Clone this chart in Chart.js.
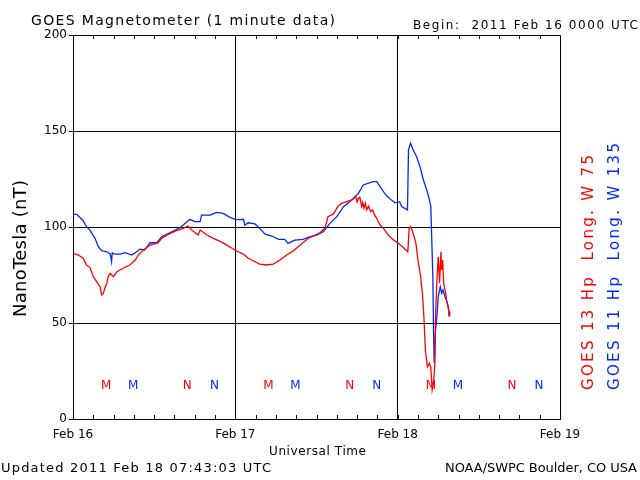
<!DOCTYPE html>
<html>
<head>
<meta charset="utf-8">
<script src="https://cdn.jsdelivr.net/npm/chart.js@4/dist/chart.umd.min.js"></script>
<style>
  html, body { margin: 0; padding: 0; background: #fff; }
  canvas { display: block; }
</style>
</head>
<body>
<canvas id="magChart" width="640" height="480"></canvas>
<script>
// hours since 2011 Feb 16 00:00 UTC
const goes13Hours = [0, 0.8, 1.5, 2.0, 2.5, 3.0, 3.5, 4.0, 4.24, 4.5, 4.7, 5.0, 5.2, 5.5, 6.0, 6.5, 7.4, 8.4, 9.2, 9.65,
  10.4, 11.4, 12.6, 13.1, 14.1, 15.3, 16.3, 17.0, 17.55, 18.5, 18.8, 19.8, 20.75, 21.5, 22.5, 23.5, 24.2, 25.2, 25.9, 26.4,
  27.6, 28.6, 29.6, 30.6, 31.6, 32.6, 33.6, 34.6, 35.5, 36.5, 37.25, 37.7, 38.5, 39.2, 39.7, 40.5, 41.4, 41.8, 42.0, 42.2,
  42.4, 42.68, 42.83, 43.02, 43.22, 43.42, 43.71, 44.0, 44.3, 44.6, 44.9, 45.0, 45.4, 45.9, 46.6, 47.4, 48.1, 48.8, 49.5, 49.7,
  49.9, 50.3, 50.7, 51.0, 51.4, 51.7, 51.9, 52.1, 52.4, 52.7, 52.9, 53.1, 53.3, 53.5, 53.6, 53.8, 54.0, 54.2, 54.4, 54.5,
  54.65, 54.8, 55.1, 55.3, 55.6, 55.7];
const goes13Values = [86.3, 85.4, 83.7, 80.2, 79, 74.1, 71.5, 68.9, 64.6, 65.5, 68.1, 70.7, 74.1, 75.9, 74.1, 76.7, 78.5, 80.2, 82.8, 85.4,
  88, 90.6, 91.8, 94.1, 96.2, 98.1, 99.3, 100.5, 98.4, 95.8, 98.4, 95.8, 94.1, 92.9, 91.1, 88.9, 87.5, 85.9, 83.7, 82.8,
  80.7, 80.2, 80.7, 82.8, 85.4, 87.6, 90.6, 93.6, 95.3, 97, 99.3, 105.4, 106.8, 110.9, 112.3, 113.2, 114.4, 116, 113, 114.9,
  115.5, 110.6, 112.7, 109.7, 112.3, 108.9, 110.9, 108, 108.9, 106.2, 104.5, 103.6, 101, 99.3, 95.8, 93.2, 91.5, 89.4, 87.1, 99.3,
  100.2, 96.7, 91.5, 82.8, 74.1, 63.7, 51.6, 35.9, 27.2, 29, 27.2, 15.1, 18.6, 29, 53.3, 72.4, 84.5, 70.7, 87.1, 77.6,
  82.8, 70.7, 65.5, 60.3, 55.9, 53.5];

const goes11Hours = [0, 0.55, 1.5, 2.0, 2.5, 3.25, 3.75, 4.24, 4.98, 5.5, 5.7, 5.8, 6.2, 6.95, 7.7, 8.7, 9.4, 9.9, 10.6, 11.4,
  12.4, 13.1, 14.3, 15.8, 16.6, 17.3, 18.0, 18.8, 19.0, 20.3, 21.2, 22.2, 23.2, 24.0, 24.7, 25.2, 25.4, 25.9, 26.9, 27.6,
  28.4, 29.4, 30.4, 31.3, 31.8, 32.8, 34.0, 35.0, 36.0, 37.0, 38.0, 39.0, 40.0, 41.2, 42.2, 42.9, 43.7, 44.4, 44.9, 45.4,
  45.9, 46.4, 47.1, 47.6, 48.3, 48.6, 49.3, 49.45, 49.6, 49.9, 50.3, 50.8, 51.3, 51.8, 52.3, 52.7, 52.9, 53.0, 53.2, 53.3,
  53.4, 53.6, 53.8, 54.0, 54.3, 54.5, 54.7, 55.0, 55.2, 55.5, 55.6];
const goes11Values = [106.6, 106.6, 103.3, 100.2, 98.4, 94.1, 89.7, 87.7, 87.1, 86, 82, 86.5, 85.9, 85.9, 86.6, 85.4, 87.1, 88.5, 88, 91.8,
  91.8, 94.9, 97, 99.6, 101.9, 104, 102.8, 102.8, 106.2, 106.2, 107.6, 107.1, 105, 104, 103.8, 104, 101, 102.2, 101.6, 99.3,
  96.3, 95.3, 93.6, 93.6, 91.5, 93.2, 93.6, 94.9, 95.8, 97.5, 101.9, 105.4, 110.6, 114, 117.5, 121.9, 122.8, 123.6, 123.6, 121,
  118.4, 116.1, 114, 112.6, 113.2, 110.6, 109.2, 108.9, 140.1, 143.6, 140.1, 136.6, 131.4, 124.5, 119.3, 114, 110.6, 98.4, 74.1, 46.4,
  29, 46.4, 53.3, 63.7, 68.9, 65.5, 67.2, 63.7, 62, 58.5, 53.3];

// local noon / midnight markers along the bottom
const markerLetters = ['M', 'M', 'N', 'N', 'M', 'M', 'N', 'N', 'M', 'M', 'N', 'N'];
const markerHours = [4.9, 8.9, 16.9, 20.9, 28.9, 32.9, 40.9, 44.9, 52.9, 56.9, 64.9, 68.9];
const markerSeries = [0, 1, 0, 1, 0, 1, 0, 1, 0, 1, 0, 1];
const markerLevel = 17;

const dayLabels = ['Feb 16', 'Feb 17', 'Feb 18', 'Feb 19'];

const RED = '#ff0000';
const BLUE = 'rgb(0,40,255)';
const FONT = 'DejaVu Sans';

function toPoints(hours, vals) {
  return hours.map((h, i) => ({ x: h, y: vals[i] }));
}

// draw text stretched with letter spacing to a given width, left edge at x
function spacedText(ctx, str, x, y, size, width) {
  ctx.font = size + 'px "' + FONT + '"';
  ctx.letterSpacing = '0px';
  const base = ctx.measureText(str).width;
  const extra = str.length > 1 ? (width - base) / (str.length - 1) : 0;
  ctx.letterSpacing = extra + 'px';
  ctx.textAlign = 'left';
  ctx.fillText(str, x, y);
  ctx.letterSpacing = '0px';
}

const overlay = {
  id: 'overlay',
  afterDraw(chart) {
    const { ctx, chartArea: a, scales: { x, y } } = chart;
    ctx.save();
    ctx.strokeStyle = '#000';
    ctx.lineWidth = 1;
    // top and right frame
    ctx.beginPath();
    ctx.moveTo(a.left, a.top + 0.5);
    ctx.lineTo(a.right + 0.5, a.top + 0.5);
    ctx.lineTo(a.right + 0.5, a.bottom);
    ctx.stroke();
    // 3-hour ticks inside top and bottom
    ctx.beginPath();
    for (let h = 3; h < 72; h += 3) {
      const px = Math.round(x.getPixelForValue(h)) + 0.5;
      ctx.moveTo(px, a.top);
      ctx.lineTo(px, a.top + 4);
      ctx.moveTo(px, a.bottom);
      ctx.lineTo(px, a.bottom - 4);
    }
    ctx.stroke();

    // M / N markers
    ctx.font = '12px "' + FONT + '"';
    ctx.textAlign = 'center';
    ctx.textBaseline = 'middle';
    markerLetters.forEach((m, i) => {
      ctx.fillStyle = markerSeries[i] === 0 ? RED : BLUE;
      ctx.fillText(m, x.getPixelForValue(markerHours[i]), y.getPixelForValue(markerLevel));
    });

    // header and footer
    ctx.fillStyle = '#000';
    ctx.textBaseline = 'alphabetic';
    spacedText(ctx, 'GOES Magnetometer (1 minute data)', 31, 25, 14, 304);
    spacedText(ctx, 'Begin:  2011 Feb 16 0000 UTC', 413, 29, 12, 225);
    spacedText(ctx, 'Updated 2011 Feb 18 07:43:03 UTC', 1, 472, 13, 270);
    spacedText(ctx, 'NOAA/SWPC Boulder, CO USA', 445, 472, 13, 192);
    spacedText(ctx, 'Universal Time', 269, 455, 12, 97);

    // y axis title
    ctx.save();
    ctx.translate(26, 317);
    ctx.rotate(-Math.PI / 2);
    spacedText(ctx, 'NanoTesla (nT)', 0, 0, 18, 137);
    ctx.restore();

    // satellite legend, vertical on the right
    ctx.save();
    ctx.translate(593, 390);
    ctx.rotate(-Math.PI / 2);
    ctx.fillStyle = RED;
    spacedText(ctx, 'GOES 13 Hp  Long. W 75', 0, 0, 15, 235);
    ctx.restore();
    ctx.save();
    ctx.translate(619, 390);
    ctx.rotate(-Math.PI / 2);
    ctx.fillStyle = BLUE;
    spacedText(ctx, 'GOES 11 Hp  Long. W 135', 0, 0, 15, 247);
    ctx.restore();

    ctx.restore();
  }
};

const ctx = document.getElementById('magChart').getContext('2d');
const magChart = new Chart(ctx, {
  type: 'line',
  data: {
    datasets: [{
      label: 'GOES 13 Hp',
      data: toPoints(goes13Hours, goes13Values),
      borderColor: RED,
      borderWidth: 1.3,
      pointRadius: 0,
      tension: 0,
      fill: false
    }, {
      label: 'GOES 11 Hp',
      data: toPoints(goes11Hours, goes11Values),
      borderColor: BLUE,
      borderWidth: 1.3,
      pointRadius: 0,
      tension: 0,
      fill: false
    }]
  },
  options: {
    responsive: false,
    animation: false,
    devicePixelRatio: 1,
    layout: { padding: { left: 0, right: 80, top: 35, bottom: 0 } },
    plugins: {
      legend: { display: false },
      tooltip: { enabled: false }
    },
    scales: {
      x: {
        type: 'linear',
        min: 0,
        max: 72,
        afterFit: s => { s.height = 61; },
        ticks: {
          stepSize: 3,
          autoSkip: false,
          maxRotation: 0,
          padding: 9,
          color: '#000',
          font: { family: FONT, size: 12 },
          callback: v => (v % 24 === 0 ? dayLabels[v / 24] : '')
        },
        grid: {
          drawTicks: false,
          color: c => (c.tick && (c.tick.value === 24 || c.tick.value === 48)) ? '#000' : 'rgba(0,0,0,0)'
        },
        border: { color: '#000', width: 1 }
      },
      y: {
        min: 0,
        max: 200,
        afterFit: s => { s.width = 73; },
        ticks: {
          stepSize: 50,
          padding: 2,
          color: '#000',
          font: { family: FONT, size: 12 }
        },
        grid: {
          tickLength: 4,
          tickColor: '#000',
          color: c => (c.tick && c.tick.value > 0 && c.tick.value < 200) ? '#000' : 'rgba(0,0,0,0)'
        },
        border: { color: '#000', width: 1 }
      }
    }
  },
  plugins: [overlay]
});
</script>
</body>
</html>
